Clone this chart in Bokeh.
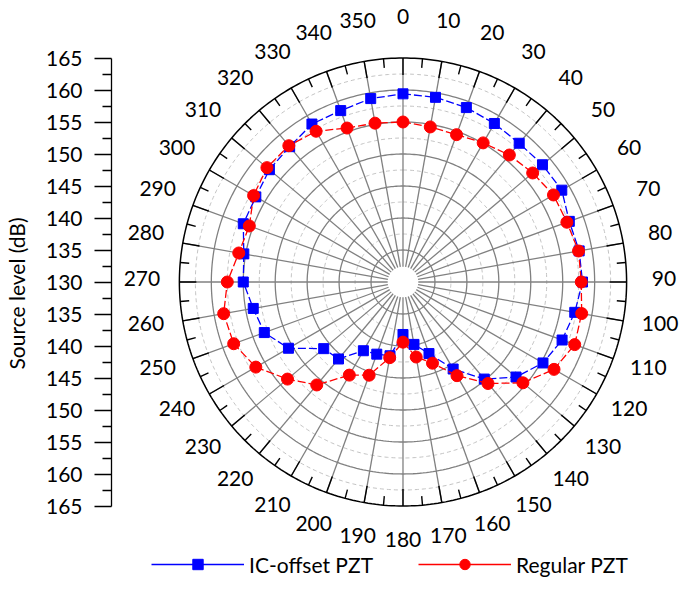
import numpy as np
from bokeh.plotting import figure
from bokeh.models import FixedTicker, CustomJSTickFormatter, Legend, LegendItem
from bokeh.core.properties import value
from bokeh.embed import file_html
from bokeh.resources import INLINE

# ---------------- data ----------------
angles = [0, 10, 20, 30, 40, 50, 60, 70, 80, 90, 100, 110, 120, 130, 140, 150, 160, 170,
          180, 190, 200, 210, 220, 230, 240, 250, 260, 270, 280, 290, 300, 310, 320, 330, 340, 350]
ic_offset = [159.4, 159.3, 159.0, 158.6, 158.3, 158.5, 158.7, 157.7, 158.0, 158.1, 157.3, 156.5,
             155.3, 153.1, 149.8, 145.7, 141.9, 139.9, 138.2, 141.7, 142.0, 142.4, 145.7, 146.2,
             150.7, 153.1, 153.8, 155.0, 155.3, 156.6, 156.6, 157.3, 157.6, 158.5, 158.5, 159.1]
regular = [155.0, 154.6, 154.5, 155.1, 155.9, 156.5, 157.2, 157.3, 157.9, 157.9, 158.4, 158.6,
           157.3, 154.5, 150.7, 146.9, 143.5, 141.9, 139.4, 142.0, 145.5, 146.8, 151.0, 153.6,
           156.6, 158.2, 158.5, 157.5, 156.1, 155.6, 157.0, 157.8, 157.8, 157.2, 155.6, 155.2]
angle_labels = [str(a) for a in angles]
level_min = 130
level_max = 165
major_rings = [135, 140, 145, 150, 155, 160]
minor_rings = [137.5, 142.5, 147.5, 152.5, 157.5, 162.5]
hole_level = 132.4
level_ticks = [165, 160, 155, 150, 145, 140, 135, 130]
level_minor = [162.5, 157.5, 152.5, 147.5, 142.5, 137.5, 132.5]
ring_tick_angles = list(range(0, 360, 5))

# ---------------- layout ----------------
W, H = 682, 586
LEFT = 110
PX = 6.4              # screen px per dB
CX, CY = 402 - LEFT, 281.5   # polar centre inside frame (px from left / top)
frame_w = W - LEFT
x0, x1 = -CX / PX, (frame_w - CX) / PX
y0, y1 = -(H - CY) / PX, CY / PX

FONT = "Lato"
FS = "21px"
BLUE = "#0000ff"
RED = "#ff0000"
GRID = "#808080"


def polar(levels, degs):
    r = np.asarray(levels, dtype=float) - level_min
    t = np.radians(np.asarray(degs, dtype=float))
    return r * np.sin(t), r * np.cos(t)


p = figure(width=W, height=H, x_range=(x0, x1), y_range=(y0, y1),
           x_axis_type=None, output_backend="svg", toolbar_location=None,
           min_border_left=LEFT, min_border_right=0, min_border_top=0, min_border_bottom=0)
p.outline_line_color = None
p.xgrid.visible = False
p.ygrid.visible = False

# ---------------- polar grid ----------------
theta = np.linspace(0, 360, 361)
circ_x, circ_y = [], []
for lv in major_rings:
    cx, cy = polar([lv] * len(theta), theta)
    circ_x.append(cx); circ_y.append(cy)
p.multi_line(circ_x, circ_y, line_color=GRID, line_width=1.3)

dx_, dy_ = [], []
for lv in minor_rings:
    cx, cy = polar([lv] * len(theta), theta)
    dx_.append(cx); dy_.append(cy)
p.multi_line(dx_, dy_, line_color="#c4c4c4", line_width=1, line_dash="4 3")

sx, sy = [], []
for a in angles:
    ax_, ay_ = polar([hole_level, level_max], [a, a])
    sx.append(ax_); sy.append(ay_)
p.multi_line(sx, sy, line_color=GRID, line_width=1.3)

ox, oy = polar([level_max] * len(theta), theta)
p.line(ox, oy, line_color="black", line_width=1.5)

tx, ty = [], []
for a in ring_tick_angles:
    ln = 17 / PX if a % 10 == 0 else 9 / PX
    ax_, ay_ = polar([level_max - ln, level_max], [a, a])
    tx.append(ax_); ty.append(ay_)
p.multi_line(tx, ty, line_color="black", line_width=1.4)

lab_r = level_min + 261.5 / PX
lx, ly = polar([lab_r] * len(angles), angles)
p.text(lx, ly, text=angle_labels, text_align="center", text_baseline="middle",
       text_font=value(FONT), text_font_size=FS, text_color="black", y_offset=-4)

# ---------------- data series ----------------
bx, by = polar(ic_offset + ic_offset[:1], angles + angles[:1])
rx, ry = polar(regular + regular[:1], angles + angles[:1])

p.line(bx, by, line_color=BLUE, line_width=1.3, line_dash="8 3")
b_sc = p.scatter(bx[:-1], by[:-1], marker="square", size=10, fill_color=BLUE, line_color=BLUE)
p.line(rx, ry, line_color=RED, line_width=1.3, line_dash="8 3")
r_sc = p.scatter(rx[:-1], ry[:-1], marker="circle", size=12, fill_color=RED, line_color=RED)

# legend-only solid lines (no visible data)
b_leg = p.line([np.nan, np.nan], [np.nan, np.nan], line_color=BLUE, line_width=1.3)
r_leg = p.line([np.nan, np.nan], [np.nan, np.nan], line_color=RED, line_width=1.3)

legend = Legend(items=[LegendItem(label="IC-offset PZT", renderers=[b_leg, b_sc]),
                       LegendItem(label="Regular PZT", renderers=[r_leg, r_sc])],
                orientation="horizontal", location=(40, 9),
                glyph_width=93, glyph_height=26, label_height=26, label_standoff=5,
                spacing=45, padding=0, margin=0,
                border_line_alpha=0, background_fill_alpha=0,
                label_text_font=FONT, label_text_font_size=FS, label_text_color="black")
p.add_layout(legend)

# ---------------- left "Source level" axis ----------------
ya = p.yaxis[0]
ya.ticker = FixedTicker(ticks=[lv - level_min for lv in level_ticks] + [level_min - lv for lv in level_ticks[:-1]],
                        minor_ticks=[lv - level_min for lv in level_minor] + [level_min - lv for lv in level_minor])
ya.formatter = CustomJSTickFormatter(code="return String(%d + Math.abs(Math.round(tick)));" % level_min)
ya.bounds = (level_min - level_max, level_max - level_min)
ya.axis_line_color = "black"
ya.axis_line_width = 1.3
ya.major_tick_line_color = "black"
ya.major_tick_line_width = 1.3
ya.minor_tick_line_color = "black"
ya.minor_tick_line_width = 1.3
ya.major_tick_out = 17
ya.major_tick_in = 0
ya.minor_tick_out = 9
ya.minor_tick_in = 0
ya.major_label_standoff = 12
ya.major_label_text_font = FONT
ya.major_label_text_font_size = FS
ya.major_label_text_color = "black"
ya.axis_label = "Source level (dB)"
ya.axis_label_text_font = FONT
ya.axis_label_text_font_size = FS
ya.axis_label_text_font_style = "normal"
ya.axis_label_text_color = "black"
ya.axis_label_standoff = 14

open("out.html", "w").write(file_html(p, INLINE))
